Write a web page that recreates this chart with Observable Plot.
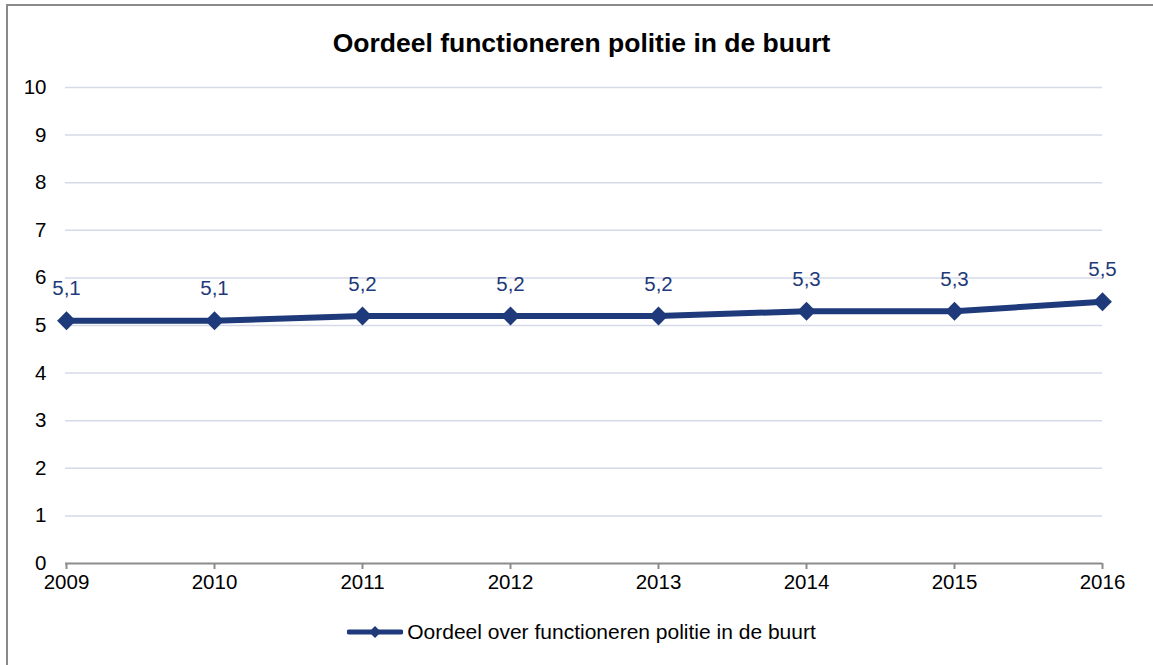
<!DOCTYPE html>
<html>
<head>
<meta charset="utf-8">
<script src="https://cdn.jsdelivr.net/npm/d3@7"></script>
<script src="https://cdn.jsdelivr.net/npm/@observablehq/plot@0.6"></script>
<style>
  html, body { margin: 0; padding: 0; background: #fff; }
  body { font-family: "Liberation Sans", Arial, sans-serif; color: #000; }
  #wrap { position: relative; width: 1153px; height: 665px; overflow: hidden; }
  #frame { position: absolute; left: 6px; top: 4px; width: 1170px; height: 700px; border: 2px solid #8a8a8a; box-sizing: border-box; }
  #title { position: relative; height: 65px; box-sizing: border-box; padding-top: 29px; line-height: 28px; text-align: center; font-weight: bold; font-size: 26.5px; padding-left: 10px; }
  #chart { position: relative; height: 535px; }
  #legend { position: relative; display: flex; justify-content: center; align-items: center; padding-top: 20px; height: 24px; font-size: 21px; gap: 4px; padding-left: 10px; }
</style>
</head>
<body>
<div id="wrap">
  <div id="frame"></div>
  <div id="title">Oordeel functioneren politie in de buurt</div>
  <div id="chart"></div>
  <div id="legend"></div>
</div>
<script>
const years = ["2009", "2010", "2011", "2012", "2013", "2014", "2015", "2016"];
const values = [5.1, 5.1, 5.2, 5.2, 5.2, 5.3, 5.3, 5.5];
const yTicks = [0, 1, 2, 3, 4, 5, 6, 7, 8, 9, 10];
const seriesName = "Oordeel over functioneren politie in de buurt";

const navy = "#1f3a7a";
const data = years.map((y, i) => ({year: y, value: values[i], label: values[i].toFixed(1).replace(".", ",")}));

const chart = Plot.plot({
  width: 1153,
  height: 535,
  marginTop: 22,
  marginBottom: 37,
  marginLeft: 65,
  marginRight: 51,
  style: {fontFamily: "'Liberation Sans', Arial, sans-serif", color: "#000", background: "transparent", overflow: "visible"},
  x: {type: "point", domain: years, padding: 0},
  y: {domain: [0, 10]},
  marks: [
    Plot.gridY(yTicks.filter(d => d > 0), {stroke: "#d6d9e8", strokeOpacity: 1, strokeWidth: 1.5}),
    Plot.axisY(yTicks, {tickSize: 0, tickPadding: 19, fontSize: 20.5, label: null}),
    Plot.ruleY([0], {stroke: "#8c8c8c", strokeWidth: 2}),
    Plot.axisX({tickSize: 6, tickPadding: 5, fontSize: 20.5, stroke: "#8c8c8c", strokeWidth: 2, label: null}),
    Plot.line(data, {x: "year", y: "value", stroke: navy, strokeWidth: 6}),
    Plot.dot(data, {x: "year", y: "value", symbol: "diamond2", r: 8.5, fill: navy, stroke: "none"}),
    Plot.text(data, {x: "year", y: "value", text: "label", dy: -32, fill: navy, fontSize: 20.5, textAnchor: "middle", lineAnchor: "middle"})
  ]
});
document.getElementById("chart").append(chart);

// legend
const legend = document.getElementById("legend");
const sw = d3.create("svg").attr("width", 56).attr("height", 14);
sw.append("line").attr("x1", 2).attr("x2", 54).attr("y1", 7).attr("y2", 7)
  .attr("stroke", navy).attr("stroke-width", 5).attr("stroke-linecap", "round");
sw.append("path").attr("d", "M28,1 L34,7 L28,13 L22,7 Z").attr("fill", navy);
legend.append(sw.node());
const lt = document.createElement("span");
lt.textContent = seriesName;
legend.append(lt);
</script>
</body>
</html>
